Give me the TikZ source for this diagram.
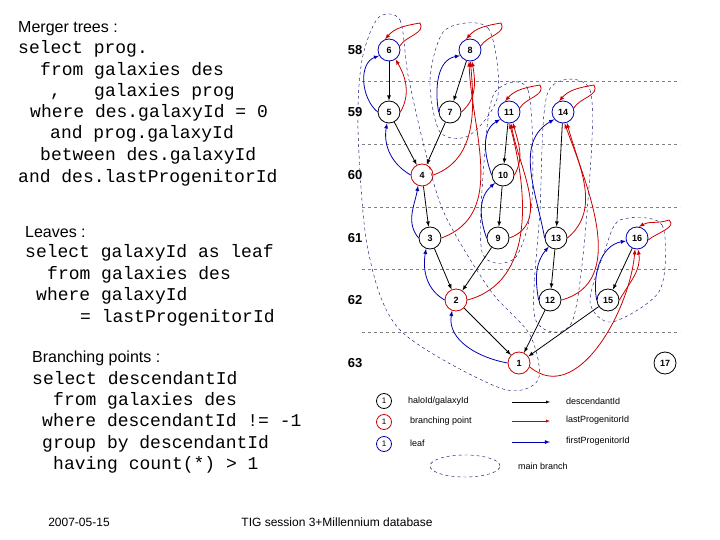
\documentclass[tikz,border=0pt]{standalone}
\usepackage{fontspec}
\setmainfont{Liberation Sans}
\setmonofont{Liberation Mono}
\usetikzlibrary{calc}
\begin{document}
\begin{tikzpicture}[x=1pt,y=1pt,
  gal/.style={circle,draw=black,thick,fill=white,minimum size=22pt,inner sep=0pt,font=\fontsize{9}{10}\selectfont\bfseries},
  brp/.style={gal,draw=red!80!black},
  lf/.style={gal,draw=blue!70!black},
  desc/.style={->,>=latex,thick,black},
  lastp/.style={->,>=latex,thick,red!80!black},
  firstp/.style={->,>=latex,thick,blue!70!black},
  mb/.style={dashed,thin,blue!40!black},
  code/.style={anchor=base west,inner sep=0pt,font=\fontsize{18}{20}\selectfont\ttfamily},
  head/.style={anchor=base west,inner sep=0pt,font=\fontsize{16}{18}\selectfont},
  row/.style={font=\fontsize{13}{15}\selectfont\bfseries},
  leg/.style={anchor=west,inner sep=0pt,font=\fontsize{9}{10}\selectfont},
  lgal/.style={circle,draw=black,thick,minimum size=15pt,inner sep=0pt,font=\fontsize{8}{9}\selectfont}]
\useasboundingbox (0,0) rectangle (720,-540);
% text
\node[head] (h1) at (18,-33) {Merger trees :};
\node[code] (c1) at (18,-54) {select prog.};
\node[code] (c2) at (40,-76) {from galaxies des};
\node[code] (c3a) at (50,-97) {,};
\node[code] (c3) at (94,-97) {galaxies prog};
\node[code] (c4) at (30,-118) {where des.galaxyId = 0};
\node[code] (c5) at (50,-139) {and prog.galaxyId};
\node[code] (c6) at (40,-161) {between des.galaxyId};
\node[code] (c7) at (18,-183) {and des.lastProgenitorId};
\node[head] (h2) at (25,-237) {Leaves :};
\node[code] (d1) at (25,-258) {select galaxyId as leaf};
\node[code] (d2) at (47,-279) {from galaxies des};
\node[code] (d3) at (36,-300) {where galaxyId};
\node[code] (d4) at (80,-322) {= lastProgenitorId};
\node[head] (h3) at (32,-362) {Branching points :};
\node[code] (e1) at (32,-384) {select descendantId};
\node[code] (e2) at (53,-405) {from galaxies des};
\node[code] (e3) at (42,-426) {where descendantId != -1};
\node[code] (e4) at (42,-448) {group by descendantId};
\node[code] (e5) at (53,-469) {having count(*) > 1};
\node[font=\fontsize{12}{14}\selectfont] (f1) at (79,-522) {2007-05-15};
\node[font=\fontsize{12}{14}\selectfont] (f2) at (337,-522) {TIG session 3+Millennium database};
% rows
\foreach \y in {81,144,207,269,332} \draw[dashed,gray] (362,-\y) -- (680,-\y);
\foreach \n/\y in {58/50,59/112,60/175,61/238,62/300,63/363} \node[row] (r\n) at (355,-\y) {\n};
% nodes
\node[lf] (n6) at (389,-50) {6};
\node[lf] (n8) at (470,-50) {8};
\node[gal] (n5) at (389,-112) {5};
\node[gal] (n7) at (450,-112) {7};
\node[lf] (n11) at (509,-112) {11};
\node[lf] (n14) at (563,-112) {14};
\node[brp] (n4) at (422,-175) {4};
\node[gal] (n10) at (503,-175) {10};
\node[gal] (n3) at (430,-238) {3};
\node[gal] (n9) at (498,-238) {9};
\node[gal] (n13) at (556,-238) {13};
\node[lf] (n16) at (637,-238) {16};
\node[brp] (n2) at (456,-300) {2};
\node[gal] (n12) at (550,-300) {12};
\node[gal] (n15) at (608,-300) {15};
\node[brp] (n1) at (519,-363) {1};
\node[gal] (n17) at (665,-363) {17};
% main branches
\draw[mb] plot[smooth cycle] coordinates {(378,-18) (400,-20) (408,-75) (425,-150) (445,-215) (490,-290) (530,-335) (538,-380) (500,-388) (400,-330) (368,-250) (358,-130) (362,-60)};
\draw[mb] plot[smooth cycle] coordinates {(445,-30) (488,-28) (498,-95) (470,-135) (440,-132) (430,-80)};
\draw[mb] plot[smooth cycle] coordinates {(495,-92) (528,-90) (532,-200) (515,-258) (482,-252) (485,-150)};
\draw[mb] plot[smooth cycle] coordinates {(548,-92) (590,-90) (588,-200) (572,-322) (535,-318) (540,-210)};
\draw[mb] plot[smooth cycle] coordinates {(620,-220) (662,-225) (660,-290) (612,-322) (590,-302) (605,-250)};
% descendant
\foreach \a/\b in {6/5,8/7,5/4,7/4,11/10,4/3,10/9,14/13,3/2,9/2,13/12,16/15,2/1,12/1,15/1}
  \draw[desc] (n\a) -- (n\b);
% self loops (last progenitor)
\foreach \n in {6,8,11,14}
  \draw[lastp] (n\n.20) to[out=60,in=-60] ($(n\n)+(31,27)$) to[out=190,in=50] (n\n.110);
\draw[lastp] (n16.-10) to[out=40,in=-40] ($(n16)+(32,18)$) to[out=200,in=30] (n16.80);
% last progenitor edges
\draw[lastp] (n5.east) to[out=60,in=-60] (n6.-55);
\draw[lastp] (n7.east) to[out=40,in=-80] (n8.-80);
\draw[lastp] (n4.east) to[out=20,in=-85] (n8.-88);
\draw[lastp] (n3.east) to[out=20,in=-88] (n8.-95);
\draw[lastp] (n10.east) to[out=60,in=-75] (n11.-70);
\draw[lastp] (n9.east) to[out=20,in=-80] (n11.-80);
\draw[lastp] (n2.east) to[out=15,in=-75] (n11.-88);
\draw[lastp] (n13.east) to[out=40,in=-75] (n14.-70);
\draw[lastp] (n12.east) to[out=15,in=-70] (n14.-82);
\draw[lastp] (n15.east) to[out=60,in=-80] (n16.-85);
\draw[lastp] (n1.-20) to[out=-40,in=-95] (n16.-100);
% first progenitor edges
\draw[firstp] (n5.west) to[out=140,in=-160] (n6.-150);
\draw[firstp] (n7.west) to[out=100,in=-170] (n8.-150);
\draw[firstp] (n4.west) to[out=150,in=-100] (n5.-100);
\draw[firstp] (n3.west) to[out=130,in=-100] (n4.-110);
\draw[firstp] (n2.west) to[out=150,in=-100] (n3.-110);
\draw[firstp] (n1.west) to[out=170,in=-100] (n2.-110);
\draw[firstp] (n10.west) to[out=110,in=-150] (n11.-140);
\draw[firstp] (n9.west) to[out=110,in=-140] (n10.-135);
\draw[firstp] (n13.west) to[out=100,in=-150] (n14.-140);
\draw[firstp] (n12.west) to[out=100,in=-130] (n13.-130);
\draw[firstp] (n15.west) to[out=100,in=-170] (n16.-165);
% legend
\node[lgal] (l1) at (384,-401) {1};
\node[lgal,draw=red!80!black] (l2) at (384,-422) {1};
\node[lgal,draw=blue!70!black] (l3) at (384,-444) {1};
\node[leg] (t1) at (408,-401) {haloId/galaxyId};
\node[leg] (t2) at (410,-421) {branching point};
\node[leg] (t3) at (410,-443) {leaf};
\coordinate (a1s) at (512,-402); \coordinate (a1e) at (550,-402);
\coordinate (a2s) at (512,-421); \coordinate (a2e) at (550,-421);
\coordinate (a3s) at (512,-442); \coordinate (a3e) at (550,-442);
\draw[->,>=latex,black] (a1s) -- (a1e);
\draw[->,>=latex,red!80!black] (a2s) -- (a2e);
\draw[->,>=latex,blue!70!black,thick] (a3s) -- (a3e);
\node[leg] (t4) at (566,-401) {descendantId};
\node[leg] (t5) at (566,-420) {lastProgenitorId};
\node[leg] (t6) at (566,-441) {firstProgenitorId};
\draw[mb] (465,-466) ellipse (35 and 11);
\node[leg] (t7) at (518,-466) {main branch};
\end{tikzpicture}
\end{document}
